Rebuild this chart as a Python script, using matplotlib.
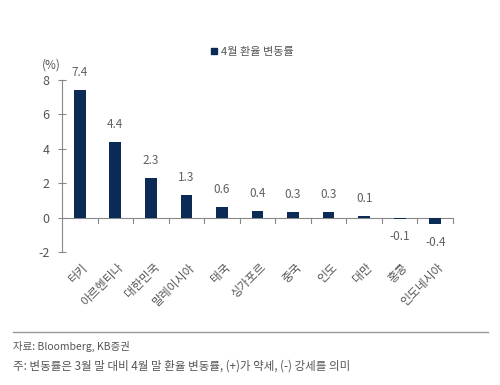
import matplotlib
matplotlib.use("Agg")
import matplotlib.pyplot as plt
from matplotlib.lines import Line2D

plt.rcParams['font.family'] = ['Noto Sans CJK KR', 'DejaVu Sans']

categories = ['터키', '아르헨티나', '대한민국', '말레이시아', '태국', '싱가포르', '중국', '인도', '대만', '홍콩', '인도네시아']
values = [7.4, 4.4, 2.3, 1.3, 0.6, 0.4, 0.3, 0.3, 0.1, -0.1, -0.4]
value_labels = ['7.4', '4.4', '2.3', '1.3', '0.6', '0.4', '0.3', '0.3', '0.1', '-0.1', '-0.4']
yticks = [-2, 0, 2, 4, 6, 8]
series_name = '4월 환율 변동률'

bar_color = '#0b2a55'
txt = '#555555'
axis_c = '#888888'

fig = plt.figure(figsize=(5, 3.85), dpi=100)
ax = fig.add_axes([0.124, 0.3455, 0.782, 0.4465])

x = list(range(len(categories)))
ax.bar(x, values, width=0.33, color=bar_color, zorder=3)
ax.set_xlim(-0.5, len(categories) - 0.5)
ax.set_ylim(-2, 8)
ax.set_yticks(yticks)
ax.set_yticklabels([str(t) for t in yticks], color=txt, fontsize=9)

for s in ['top', 'right', 'bottom']:
    ax.spines[s].set_visible(False)
ax.spines['left'].set_color(axis_c)
ax.spines['left'].set_linewidth(0.8)
ax.tick_params(axis='y', direction='inout', length=6, width=0.8, color=axis_c, pad=6)

ax.axhline(0, color=axis_c, lw=0.8, zorder=2)
for b in [i + 0.5 for i in range(len(categories))]:
    ax.plot([b, b], [0, -0.3], color=axis_c, lw=0.8, zorder=2, clip_on=False)
ax.set_xticks([])

for xi, v, lab in zip(x, values, value_labels):
    if v >= 0:
        ax.annotate(lab, (xi, v), xytext=(0, 8), textcoords='offset points', ha='center', va='bottom', fontsize=8.5, color='#606060')
    else:
        ax.annotate(lab, (xi, v), xytext=(0, -8), textcoords='offset points', ha='center', va='top', fontsize=8.5, color='#606060')

for xi, c in zip(x, categories):
    ax.text(xi + 0.05, -2.5, c, rotation=45, ha='right', va='top', fontsize=8.5, color=txt, rotation_mode='anchor')

fig.text(0.084, 0.83, '(%)', fontsize=8.5, color=txt, va='center')

handle = Line2D([0], [0], marker='s', linestyle='none', markersize=5, color=bar_color)
fig.legend([handle], [series_name], loc='center', bbox_to_anchor=(0.503, 0.865), frameon=False,
           fontsize=8, handletextpad=0.2, labelcolor=txt, handlelength=0.8)

fig.add_artist(Line2D([0.026, 0.976], [1 - 332 / 385, 1 - 332 / 385], color='#999999', lw=1))
fig.text(0.026, 1 - 346 / 385, '자료: Bloomberg, KB증권', fontsize=7.5, color=txt, va='center')
fig.text(0.026, 1 - 366 / 385, '주: 변동률은 3월 말 대비 4월 말 환율 변동률, (+)가 약세, (-) 강세를 의미', fontsize=8.3, color=txt, va='center')

fig.savefig('out.png', dpi=100)
